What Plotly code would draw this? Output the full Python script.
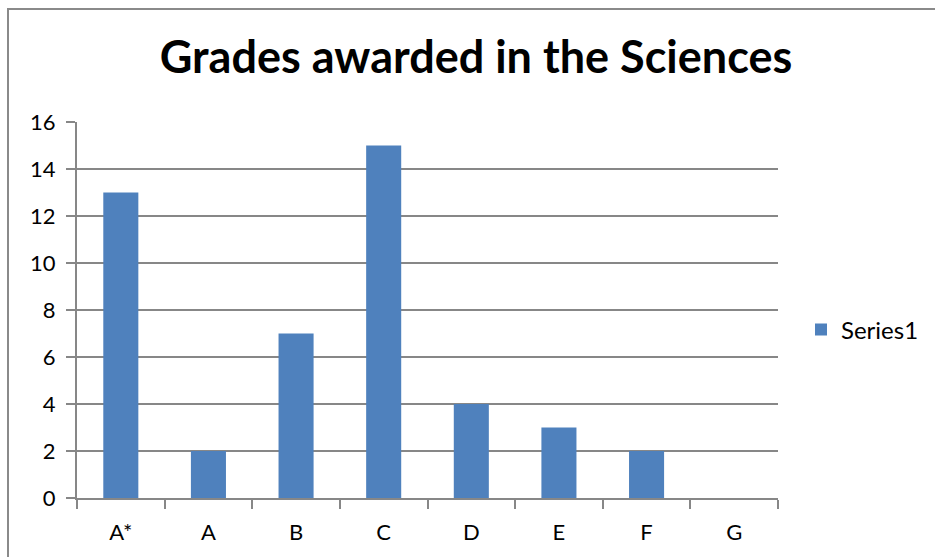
import plotly.graph_objects as go

categories = ["A*", "A", "B", "C", "D", "E", "F", "G"]
series1 = [13, 2, 7, 15, 4, 3, 2, 0]
y_ticks = [0, 2, 4, 6, 8, 10, 12, 14, 16]

W, H = 935, 557
L, R, T, B = 77, 778, 122, 498
pw, ph = R - L, B - T

def px_x(px):
    return (px - L) / pw

def px_y(py):
    return (B - py) / ph

FONT = "Lato"
GRID = "#878787"

fig = go.Figure()
fig.add_trace(go.Bar(
    x=categories, y=series1, name="Series1",
    marker=dict(color="#4F81BD", line=dict(width=0)),
    width=0.4,
))

fig.update_layout(
    width=W, height=H,
    margin=dict(l=L, r=W - R, t=T, b=H - B, pad=0, autoexpand=False),
    paper_bgcolor="white", plot_bgcolor="white",
    showlegend=True,
    title=dict(
        text="<b>Grades awarded in the Sciences</b>",
        font=dict(family=FONT, size=45, color="black"),
        x=476 / W, xanchor="center", xref="container",
        y=1 - 57 / H, yanchor="middle", yref="container",
    ),
    legend=dict(
        x=px_x(801), xanchor="left", y=px_y(330), yanchor="middle",
        font=dict(family=FONT, size=24, color="black"),
        bgcolor="rgba(0,0,0,0)",
    ),
    bargap=0.6,
    font=dict(family=FONT, size=23, color="black"),
)

fig.update_xaxes(
    type="category", tickson="boundaries",
    showline=True, linecolor=GRID, linewidth=2,
    ticks="outside", ticklen=9, tickwidth=2, tickcolor=GRID,
    showgrid=False, zeroline=False,
    tickfont=dict(family=FONT, size=22, color="black"),
    ticklabelstandoff=14,
)
fig.update_yaxes(
    range=[0, 16], tickvals=y_ticks,
    showline=True, linecolor=GRID, linewidth=2,
    ticks="outside", ticklen=9, tickwidth=2, tickcolor=GRID,
    showgrid=True, gridcolor=GRID, gridwidth=1.5,
    zeroline=False,
    tickfont=dict(family=FONT, size=22, color="black"),
    ticklabelstandoff=6,
)

fig.add_shape(
    type="rect", xref="paper", yref="paper",
    x0=px_x(8), x1=px_x(1000), y0=px_y(620), y1=px_y(9),
    line=dict(color="#8a8a8a", width=2), fillcolor="rgba(0,0,0,0)",
    layer="above",
)

fig.write_html(
    "out.html",
    config={"displayModeBar": False},
    post_script="document.body.style.margin='0';document.body.style.overflow='hidden';",
)
